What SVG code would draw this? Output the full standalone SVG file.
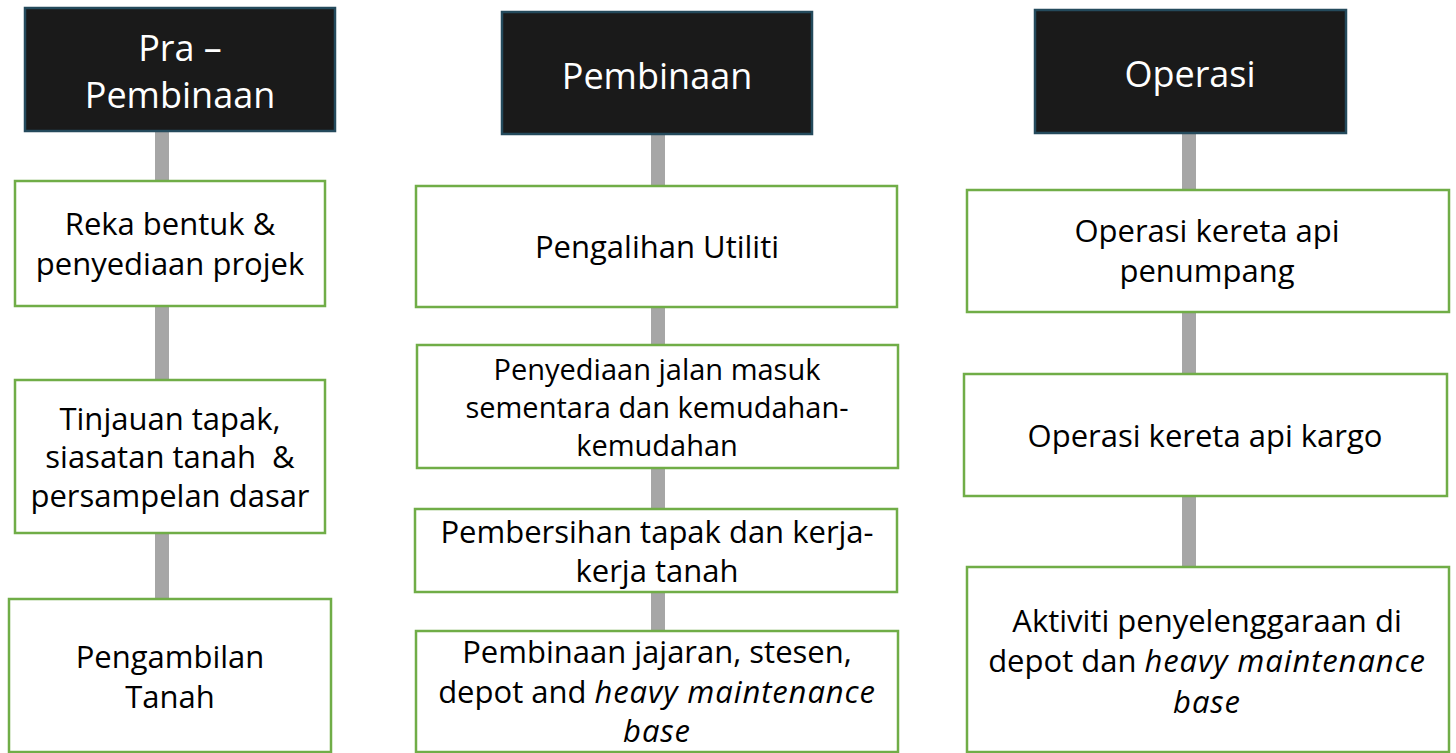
<svg xmlns="http://www.w3.org/2000/svg" width="1456" height="753" viewBox="0 0 1456 753">
<style>
.hd{fill:#1a1a1a;stroke:#244a5c;stroke-width:2.5}
.bx{fill:#ffffff;stroke:#70ad47;stroke-width:2.5}
.ht{font-family:"Open Sans","Liberation Sans",sans-serif;font-size:36px;fill:#ffffff;text-anchor:middle}
.bt{font-family:"Open Sans","Liberation Sans",sans-serif;font-size:31px;fill:#000000;text-anchor:middle}
.sm{font-size:29px}
.it{font-style:italic;letter-spacing:0.9px}
.cn{stroke:#a6a6a6;stroke-width:14;fill:none}
</style>
<rect width="1456" height="753" fill="#ffffff"/>
<g id="connectors">
<line class="cn" x1="162" y1="131" x2="162" y2="181"/>
<line class="cn" x1="162" y1="306" x2="162" y2="380"/>
<line class="cn" x1="162" y1="533" x2="162" y2="599"/>
<line class="cn" x1="658" y1="134" x2="658" y2="186"/>
<line class="cn" x1="658" y1="307" x2="658" y2="345"/>
<line class="cn" x1="658" y1="468" x2="658" y2="509"/>
<line class="cn" x1="658" y1="592" x2="658" y2="631"/>
<line class="cn" x1="1189" y1="133" x2="1189" y2="190"/>
<line class="cn" x1="1189" y1="312" x2="1189" y2="374"/>
<line class="cn" x1="1189" y1="496" x2="1189" y2="567"/>
</g>
<g id="h-pra">
<rect class="hd" x="25" y="8" width="310" height="123"/>
<text class="ht" x="180" y="61">Pra –</text>
<text class="ht" x="180" y="108">Pembinaan</text>
</g>
<g id="h-pembinaan">
<rect class="hd" x="502" y="12" width="310" height="122"/>
<text class="ht" x="657" y="89">Pembinaan</text>
</g>
<g id="h-operasi">
<rect class="hd" x="1035" y="10" width="311" height="123"/>
<text class="ht" x="1190" y="87">Operasi</text>
</g>
<g id="n-reka">
<rect class="bx" x="15" y="181" width="310" height="125"/>
<text class="bt" x="170" y="235">Reka bentuk &amp;</text>
<text class="bt" x="170" y="275">penyediaan projek</text>
</g>
<g id="n-tinjauan">
<rect class="bx" x="15" y="380" width="310" height="153"/>
<text class="bt" x="170" y="430">Tinjauan tapak,</text>
<text class="bt" x="170" y="468" xml:space="preserve">siasatan tanah  &amp;</text>
<text class="bt" x="170" y="507">persampelan dasar</text>
</g>
<g id="n-pengambilan">
<rect class="bx" x="9" y="599" width="322" height="153"/>
<text class="bt" x="170" y="668">Pengambilan</text>
<text class="bt" x="170" y="708">Tanah</text>
</g>
<g id="n-pengalihan">
<rect class="bx" x="416" y="186" width="481" height="121"/>
<text class="bt" x="657" y="258">Pengalihan Utiliti</text>
</g>
<g id="n-penyediaan">
<rect class="bx" x="417" y="345" width="481" height="123"/>
<text class="bt sm" x="657" y="380">Penyediaan jalan masuk</text>
<text class="bt sm" x="657" y="418">sementara dan kemudahan-</text>
<text class="bt sm" x="657" y="456">kemudahan</text>
</g>
<g id="n-pembersihan">
<rect class="bx" x="415" y="509" width="482" height="83"/>
<text class="bt" x="657" y="543">Pembersihan tapak dan kerja-</text>
<text class="bt" x="657" y="582">kerja tanah</text>
</g>
<g id="n-jajaran">
<rect class="bx" x="416" y="631" width="482" height="121"/>
<text class="bt" x="657" y="663">Pembinaan jajaran, stesen,</text>
<text class="bt" x="657" y="703">depot and <tspan class="it">heavy maintenance</tspan></text>
<text class="bt it" x="657" y="742">base</text>
</g>
<g id="n-penumpang">
<rect class="bx" x="967" y="190" width="482" height="122"/>
<text class="bt" x="1207" y="242">Operasi kereta api</text>
<text class="bt" x="1207" y="282">penumpang</text>
</g>
<g id="n-kargo">
<rect class="bx" x="964" y="374" width="483" height="122"/>
<text class="bt" x="1205" y="447">Operasi kereta api kargo</text>
</g>
<g id="n-aktiviti">
<rect class="bx" x="967" y="567" width="482" height="185"/>
<text class="bt" x="1207" y="632">Aktiviti penyelenggaraan di</text>
<text class="bt" x="1207" y="672">depot dan <tspan class="it">heavy maintenance</tspan></text>
<text class="bt it" x="1207" y="713">base</text>
</g>
</svg>
